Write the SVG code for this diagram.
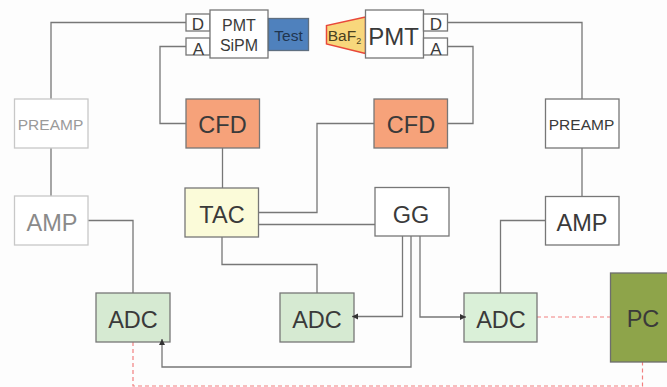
<svg xmlns="http://www.w3.org/2000/svg" width="667" height="387" viewBox="0 0 667 387">
<style>
text{font-family:"Liberation Sans",Arial,sans-serif;text-anchor:middle;fill:#3a3a3a}
.b{stroke:#777;stroke-width:1.3;fill:#fff}
.c{fill:none;stroke:#777;stroke-width:1.3}
.l{fill:#fff;stroke:#c8c8c8;stroke-width:1.3}
.r{fill:none;stroke:#f28080;stroke-width:1.2;stroke-dasharray:4 3}
.adc{fill:#d6ead2}
.big{font-size:23.500px}
.dt{font-size:17px}
</style>
<defs><marker id="a" markerWidth="7" markerHeight="7" refX="6" refY="3" orient="auto" markerUnits="userSpaceOnUse"><path d="M0 0L6 3L0 6z" fill="#333"/></marker></defs>
<rect width="667" height="387" fill="#fdfdfd"/>
<g id="connectors">
<path class="c" d="M186 22.500H51V99"/>
<path class="c" d="M186 46.500H160V123.500H186"/>
<path class="c" d="M448 22.500H582V99"/>
<path class="c" d="M448 46.500H473V123.500H447.500"/>
<path class="c" d="M222.500 148V188"/>
<path class="c" d="M259 212.500H317V123.500H374"/>
<path class="c" d="M259 224.500H375"/>
<path class="c" d="M222 237V264.500H317V293"/>
<path class="c" d="M88 220.500H133V293"/>
<path class="c" d="M51 148V196"/>
<path class="c" d="M582 148V197"/>
<path class="c" d="M545 220.500H500.500V293"/>
<path class="r" d="M537 317H610"/>
<path class="r" d="M133 342V386H642.500V362"/>
</g>
<g id="detD1"><rect class="b" x="186" y="14" width="24" height="17"/><text class="dt" x="198" y="29.500">D</text></g>
<g id="detA1"><rect class="b" x="186" y="38" width="24" height="17"/><text class="dt" x="198.500" y="54.500">A</text></g>
<g id="sipm"><rect class="b" x="210" y="10" width="58" height="48"/><text x="239" y="31" font-size="16">PMT</text><text x="239" y="51" font-size="16">SiPM</text></g>
<g id="test"><rect x="268.500" y="18.500" width="40" height="32" fill="#4f81bd" stroke="#5f6f80" stroke-width="1.3"/><text x="288.500" y="41" font-size="15.500" style="fill:#1f3550">Test</text></g>
<g id="baf2"><path d="M365.500 17L326.500 25.500V44L365.500 53.500z" fill="#f8d77c" stroke="#e8483a" stroke-width="1.5"/><text x="344.500" y="41" font-size="15.500" style="fill:#4a4020">BaF<tspan font-size="9" dy="3">2</tspan></text></g>
<g id="pmt"><rect class="b" x="365.500" y="10" width="58" height="48"/><text x="393.500" y="45" font-size="24">PMT</text></g>
<g id="detD2"><rect class="b" x="423.500" y="14" width="24" height="17"/><text class="dt" x="436" y="29.500">D</text></g>
<g id="detA2"><rect class="b" x="423.500" y="38" width="24" height="17"/><text class="dt" x="436" y="54.500">A</text></g>
<g id="preampL"><rect class="l" x="14.500" y="99" width="73.500" height="49"/><text x="50.500" y="130" font-size="15.500" style="fill:#9a9a9a">PREAMP</text></g>
<g id="cfdL"><rect x="186" y="99" width="73.500" height="49" fill="#f6a27a" stroke="#777" stroke-width="1.3"/><text class="big" x="222.500" y="133">CFD</text></g>
<g id="cfdR"><rect x="374" y="99" width="73.500" height="49" fill="#f6a27a" stroke="#777" stroke-width="1.3"/><text class="big" x="411" y="133">CFD</text></g>
<g id="preampR"><rect class="b" x="545.500" y="99" width="73.500" height="49"/><text x="581.500" y="130" font-size="15.500">PREAMP</text></g>
<g id="tac"><rect x="185" y="188" width="73.500" height="49" fill="#fbfbd9" stroke="#777" stroke-width="1.3"/><text class="big" x="222" y="222.500">TAC</text></g>
<g id="gg"><rect class="b" x="375" y="187.500" width="74" height="48.500"/><text class="big" x="411" y="222.500">GG</text></g>
<g id="ampL"><rect class="l" x="14.500" y="196" width="73.500" height="49"/><text class="big" x="52" y="231" style="fill:#8a8a8a">AMP</text></g>
<g id="ampR"><rect class="b" x="545.500" y="196.500" width="73.500" height="48.500"/><text class="big" x="582" y="231">AMP</text></g>
<g id="adc1"><rect class="b adc" x="96" y="293" width="74" height="49"/><text class="big" x="133" y="327.500">ADC</text></g>
<g id="adc2"><rect class="b adc" x="280" y="293" width="74" height="49"/><text class="big" x="317" y="327.500">ADC</text></g>
<g id="adc3"><rect class="b" x="464" y="293" width="73" height="49" style="fill:#daf0d8"/><text class="big" x="501" y="327.500">ADC</text></g>
<g id="pc"><rect x="610.500" y="273" width="60" height="89" fill="#8ea44a" stroke="#6e6e6e" stroke-width="1.3"/><text class="big" x="643" y="327">PC</text></g>
<g id="connectors-arrows">
<path class="c" d="M402.500 236V316.500H352" marker-end="url(#a)"/>
<path class="c" d="M411 236V367H162V339" marker-end="url(#a)"/>
<path class="c" d="M420 236V317H466" marker-end="url(#a)"/>
</g>
</svg>
